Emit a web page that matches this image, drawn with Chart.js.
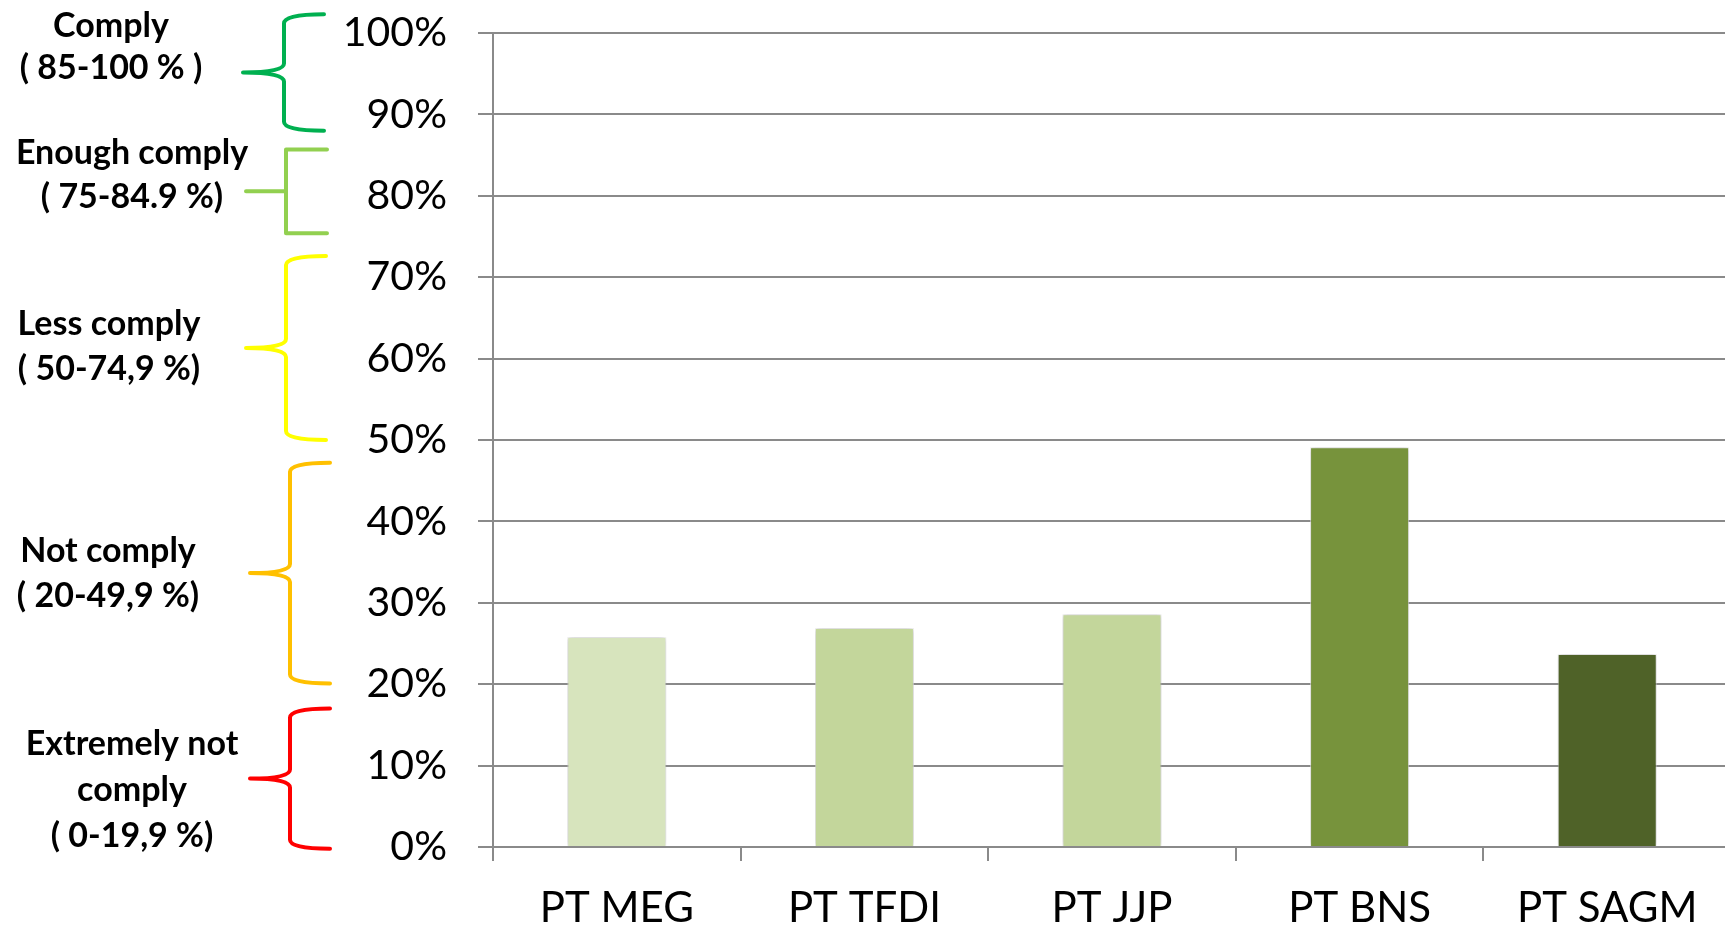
<!DOCTYPE html>
<html>
<head>
<meta charset="utf-8">
<script src="https://cdn.jsdelivr.net/npm/chart.js@4.4.1/dist/chart.umd.min.js"></script>
<style>
    html, body { margin: 0; padding: 0; background: #fff; overflow: hidden; }
    #wrap { width: 1760px; height: 928px; }
</style>
</head>
<body>
<div id="wrap"><canvas id="compliance-chart" width="1760" height="928"></canvas></div>
<script>
// Compliance score per unit (%)
const categories = ['PT MEG', 'PT TFDI', 'PT JJP', 'PT BNS', 'PT SAGM'];
const scores = [25.8, 26.9, 28.6, 49.1, 23.7];
const barColors = ['#D7E4BD', '#C3D69B', '#C3D69B', '#77933C', '#4F6228'];

// Y axis ticks (%)
const yMin = 0;
const yMax = 100;
const yStep = 10;

// Compliance bands shown as brackets beside the axis (extent in %)
const bandLabels = [
    ['Comply', '( 85-100 % )'],
    ['Enough comply', '( 75-84.9 %)'],
    ['Less comply', '( 50-74,9 %)'],
    ['Not comply', '( 20-49,9 %)'],
    ['Extremely not', 'comply', '( 0-19,9 %)']
];
const bandTop = [102.3, 85.7, 72.6, 47.2, 17.0];
const bandBottom = [88.0, 75.4, 50.0, 20.1, -0.2];
const bandColors = ['#00B050', '#92D050', '#FFFF00', '#FFC000', '#FF0000'];

// drawing layout for the band notes (px)
const noteLayout = [
    { textX: 111, baseline: 37, gap: 42, endX: 324, bendX: 284, tipX: 243, curly: true },
    { textX: 132, baseline: 164, gap: 44, endX: 327, bendX: 286, tipX: 246, curly: false },
    { textX: 109, baseline: 335, gap: 45, endX: 326, bendX: 286, tipX: 246, curly: true },
    { textX: 108, baseline: 562, gap: 45, endX: 330, bendX: 290, tipX: 250, curly: true },
    { textX: 132, baseline: 755, gap: 46, endX: 330, bendX: 290, tipX: 250, curly: true }
];

const gridColor = '#8A8A8A';

function drawCurly(ctx, l, yTop, yBot) {
    const yMid = (yTop + yBot) / 2;
    const r = 9;
    ctx.beginPath();
    ctx.moveTo(l.endX, yTop);
    ctx.quadraticCurveTo(l.bendX, yTop, l.bendX, yTop + r);
    ctx.lineTo(l.bendX, yMid - r);
    ctx.quadraticCurveTo(l.bendX, yMid, l.tipX, yMid);
    ctx.quadraticCurveTo(l.bendX, yMid, l.bendX, yMid + r);
    ctx.lineTo(l.bendX, yBot - r);
    ctx.quadraticCurveTo(l.bendX, yBot, l.endX, yBot);
    ctx.stroke();
}

function drawSquare(ctx, l, yTop, yBot) {
    const yMid = (yTop + yBot) / 2;
    ctx.beginPath();
    ctx.moveTo(l.endX, yTop);
    ctx.lineTo(l.bendX, yTop);
    ctx.lineTo(l.bendX, yBot);
    ctx.lineTo(l.endX, yBot);
    ctx.moveTo(l.bendX, yMid);
    ctx.lineTo(l.tipX, yMid);
    ctx.stroke();
}

const bandNotes = {
    id: 'bandNotes',
    afterDraw(chart) {
        const ctx = chart.ctx;
        const y = chart.scales.y;
        ctx.save();
        ctx.lineWidth = 4;
        ctx.lineCap = 'round';
        ctx.lineJoin = 'round';
        bandLabels.forEach((lines, i) => {
            const l = noteLayout[i];
            const yTop = y.getPixelForValue(bandTop[i]);
            const yBot = y.getPixelForValue(bandBottom[i]);
            ctx.strokeStyle = bandColors[i];
            if (l.curly) drawCurly(ctx, l, yTop, yBot);
            else drawSquare(ctx, l, yTop, yBot);

            ctx.fillStyle = '#000';
            ctx.font = 'bold 34px Lato';
            ctx.textAlign = 'center';
            ctx.textBaseline = 'alphabetic';
            lines.forEach((t, k) => ctx.fillText(t, l.textX, l.baseline + k * l.gap));
        });
        ctx.restore();
    }
};

// soft glow around the bars
const barGlow = {
    id: 'barGlow',
    beforeDatasetsDraw(chart) {
        const ctx = chart.ctx;
        ctx.save();
        ctx.shadowColor = 'rgba(0,0,0,0.28)';
        ctx.shadowBlur = 6;
    },
    afterDatasetsDraw(chart) {
        chart.ctx.restore();
    }
};

new Chart(document.getElementById('compliance-chart'), {
    type: 'bar',
    data: {
        labels: categories,
        datasets: [{
            data: scores,
            backgroundColor: barColors,
            borderColor: 'rgba(255,255,255,0.7)',
            borderWidth: 1,
            categoryPercentage: 1,
            barPercentage: 0.4
        }]
    },
    options: {
        responsive: false,
        animation: false,
        layout: { padding: { top: 33, right: 29, left: 0, bottom: 0 } },
        plugins: {
            legend: { display: false },
            tooltip: { enabled: false }
        },
        scales: {
            x: {
                grid: {
                    drawOnChartArea: false,
                    drawTicks: true,
                    tickLength: 14,
                    color: gridColor,
                    lineWidth: 2,
                    offset: true
                },
                border: { color: gridColor, width: 2 },
                ticks: {
                    color: '#000',
                    font: { family: 'Lato', size: 42 },
                    padding: 22,
                    maxRotation: 0,
                    autoSkip: false
                },
                afterFit(scale) {
                    scale.height = 81;
                    scale.paddingLeft = 0;
                    scale.paddingRight = 0;
                }
            },
            y: {
                min: yMin,
                max: yMax,
                grid: {
                    color: gridColor,
                    lineWidth: 2,
                    tickLength: 15
                },
                border: { color: gridColor, width: 2 },
                ticks: {
                    stepSize: yStep,
                    color: '#000',
                    font: { family: 'Lato', size: 41 },
                    padding: 31,
                    callback: v => v + '%'
                },
                afterFit(scale) {
                    scale.width = 493;
                    scale.paddingTop = 0;
                    scale.paddingBottom = 0;
                }
            }
        }
    },
    plugins: [barGlow, bandNotes]
});
</script>
</body>
</html>
